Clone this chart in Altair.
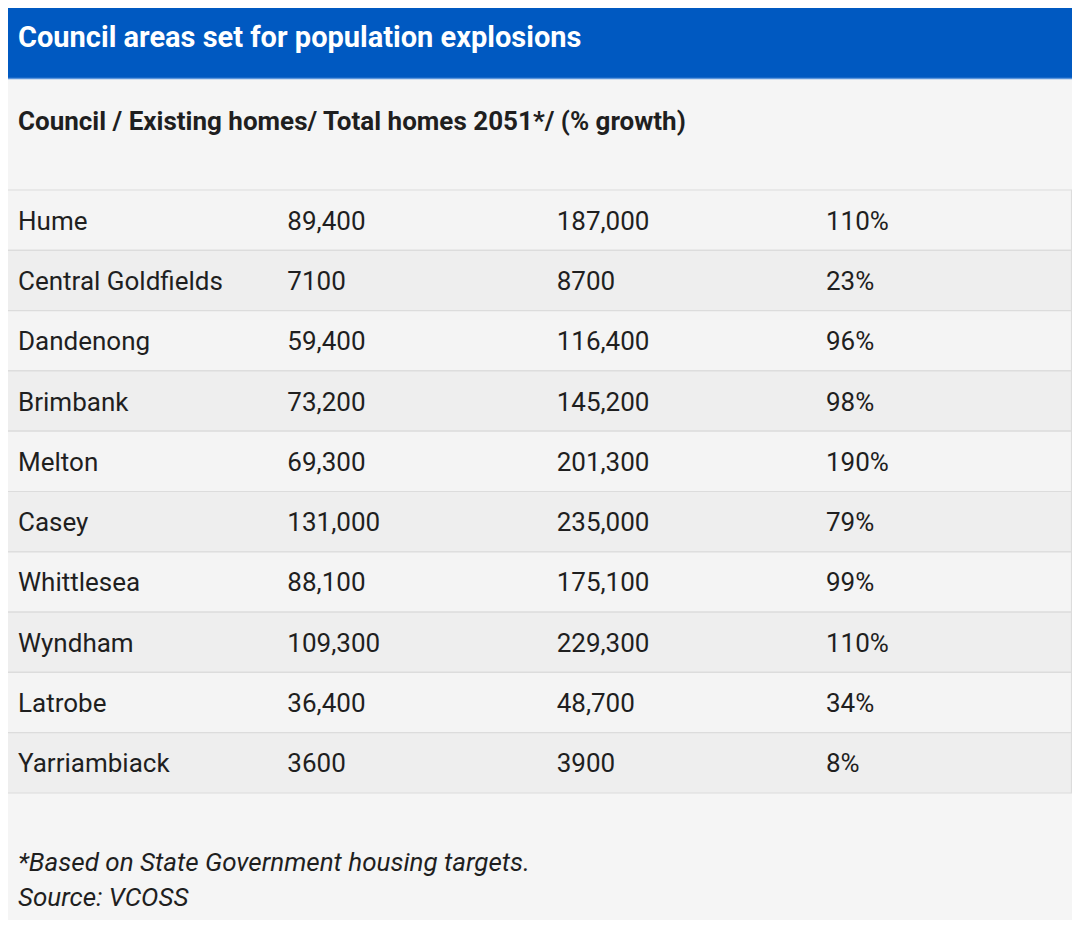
import altair as alt
import pandas as pd

councils = ["Hume", "Central Goldfields", "Dandenong", "Brimbank", "Melton",
            "Casey", "Whittlesea", "Wyndham", "Latrobe", "Yarriambiack"]
existing = ["89,400", "7100", "59,400", "73,200", "69,300",
            "131,000", "88,100", "109,300", "36,400", "3600"]
total2051 = ["187,000", "8700", "116,400", "145,200", "201,300",
             "235,000", "175,100", "229,300", "48,700", "3900"]
growth = ["110%", "23%", "96%", "98%", "190%", "79%", "99%", "110%", "34%", "8%"]

columns = ["Council", "Existing", "Total 2051", "Growth"]
title_text = "Council areas set for population explosions"
subtitle_text = "Council / Existing homes/ Total homes 2051*/ (% growth)"
notes = ["*Based on State Government housing targets.", "Source: VCOSS"]

W, H = 1064, 912
FONT = "Roboto"
BG = "#f5f5f5"

rows = pd.DataFrame({
    "row": list(range(len(councils))),
    "Council": councils,
    "Existing": existing,
    "Total 2051": total2051,
    "Growth": growth,
})
rows["shade"] = ["odd" if i % 2 == 0 else "even" for i in rows["row"]]

cells = rows.melt(id_vars=["row"], value_vars=columns, var_name="col", value_name="text")

yscale = alt.Scale(domain=list(range(len(councils))), range=[182, 785],
                   paddingInner=0, paddingOuter=0)
text_yscale = alt.Scale(domain=list(range(len(councils))), range=[183.5, 786.5],
                        paddingInner=0, paddingOuter=0)
xscale = alt.Scale(domain=columns, range=[10, 818], padding=0)

row_rects = alt.Chart(rows).mark_rect(stroke="#dcdcdc", strokeWidth=1.2).encode(
    x=alt.value(-2),
    x2=alt.value(W - 0.5),
    y=alt.Y("row:O", scale=yscale, axis=None),
    color=alt.Color("shade:N", scale=alt.Scale(domain=["odd", "even"],
                                               range=["#f4f4f4", "#eeeeee"]),
                    legend=None),
)

cell_text = alt.Chart(cells).mark_text(
    align="left", baseline="middle", font=FONT, fontSize=26, color="#1f1f1f"
).encode(
    x=alt.X("col:N", scale=xscale, axis=None, sort=columns),
    y=alt.Y("row:O", scale=text_yscale, axis=None),
    text="text:N",
)

header_df = pd.DataFrame({"t": [title_text]})
header_bar = alt.Chart(header_df).mark_rect(color="#0059c1").encode(
    x=alt.value(0), x2=alt.value(W), y=alt.value(0), y2=alt.value(70)
)
header_line = alt.Chart(header_df).mark_rule(color="#5a95dc", strokeWidth=1.5).encode(
    x=alt.value(0), x2=alt.value(W), y=alt.value(70.5)
)
header_text = alt.Chart(header_df).mark_text(
    align="left", baseline="middle", font=FONT, fontSize=29, fontWeight="bold", color="white"
).encode(x=alt.value(10), y=alt.value(30), text="t:N")

sub_df = pd.DataFrame({"t": [subtitle_text]})
sub_text = alt.Chart(sub_df).mark_text(
    align="left", baseline="middle", font=FONT, fontSize=26, fontWeight="bold", color="#1f1f1f"
).encode(x=alt.value(10), y=alt.value(113.5), text="t:N")

note_df = pd.DataFrame({"t": notes, "i": [0, 1]})
note_text = alt.Chart(note_df).mark_text(
    align="left", baseline="middle", font=FONT, fontSize=26, fontStyle="italic", color="#1f1f1f"
).encode(
    x=alt.value(10),
    y=alt.Y("i:O", scale=alt.Scale(domain=[0, 1], range=[855, 890], padding=0), axis=None),
    text="t:N",
)

chart = alt.layer(
    header_bar, header_line, header_text, sub_text, row_rects, cell_text, note_text
).resolve_scale(y="independent").properties(
    width=W, height=H, padding=0, background=BG,
    autosize=alt.AutoSizeParams(type="none"),
).configure_view(stroke=None)

chart.save("out.html", embed_options={"renderer": "svg", "actions": False})
